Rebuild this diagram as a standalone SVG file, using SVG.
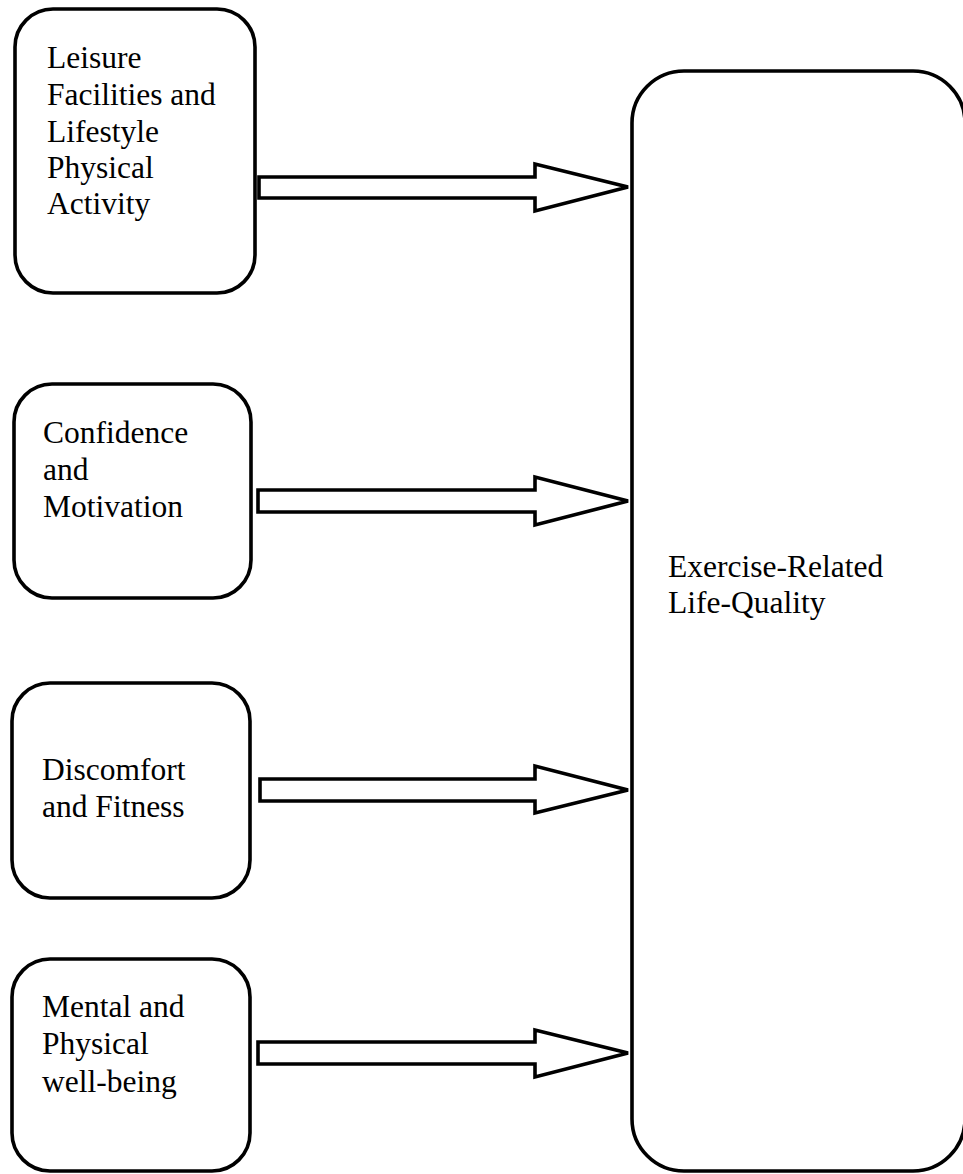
<svg xmlns="http://www.w3.org/2000/svg" width="963" height="1174" viewBox="0 0 963 1174">
  <style>
    .box { fill: #ffffff; stroke: #000000; stroke-width: 3.6; }
    .arrow { fill: #ffffff; stroke: #000000; stroke-width: 3.6; stroke-linejoin: miter; }
    .label { font-family: "Liberation Serif", "Times New Roman", serif; font-size: 31.5px; fill: #000000; }
  </style>
  <rect width="963" height="1174" fill="#ffffff"/>

  <!-- Outcome -->
  <g id="node-outcome">
    <rect class="box" x="632" y="71" width="333" height="1100" rx="52" ry="52"/>
    <text class="label" x="668" y="577">Exercise-Related</text>
    <text class="label" x="668" y="613">Life-Quality</text>
  </g>

  <!-- Factors -->
  <g id="node-leisure">
    <rect class="box" x="15" y="9" width="240" height="284" rx="38" ry="38"/>
    <text class="label" x="47" y="68">Leisure</text>
    <text class="label" x="47" y="105">Facilities and</text>
    <text class="label" x="47" y="142">Lifestyle</text>
    <text class="label" x="47" y="178">Physical</text>
    <text class="label" x="47" y="214">Activity</text>
  </g>

  <g id="node-confidence">
    <rect class="box" x="14" y="384" width="237" height="214" rx="38" ry="38"/>
    <text class="label" x="43" y="443">Confidence</text>
    <text class="label" x="43" y="480">and</text>
    <text class="label" x="43" y="517">Motivation</text>
  </g>

  <g id="node-discomfort">
    <rect class="box" x="12" y="683" width="238" height="215" rx="38" ry="38"/>
    <text class="label" x="42" y="780">Discomfort</text>
    <text class="label" x="42" y="817">and Fitness</text>
  </g>

  <g id="node-wellbeing">
    <rect class="box" x="12" y="959" width="238" height="212" rx="38" ry="38"/>
    <text class="label" x="42" y="1017">Mental and</text>
    <text class="label" x="42" y="1054">Physical</text>
    <text class="label" x="42" y="1092">well-being</text>
  </g>

  <!-- Block arrows into the outcome -->
  <g id="connectors">
    <polygon class="arrow" points="259,177 535,177 535,164 628,187 535,211 535,198 259,198"/>
    <polygon class="arrow" points="258,490 535,490 535,477 628,501 535,525 535,512 258,512"/>
    <polygon class="arrow" points="260,779 535,779 535,766 628,790 535,813 535,801 260,801"/>
    <polygon class="arrow" points="258,1042 535,1042 535,1030 628,1053 535,1077 535,1064 258,1064"/>
  </g>
</svg>
